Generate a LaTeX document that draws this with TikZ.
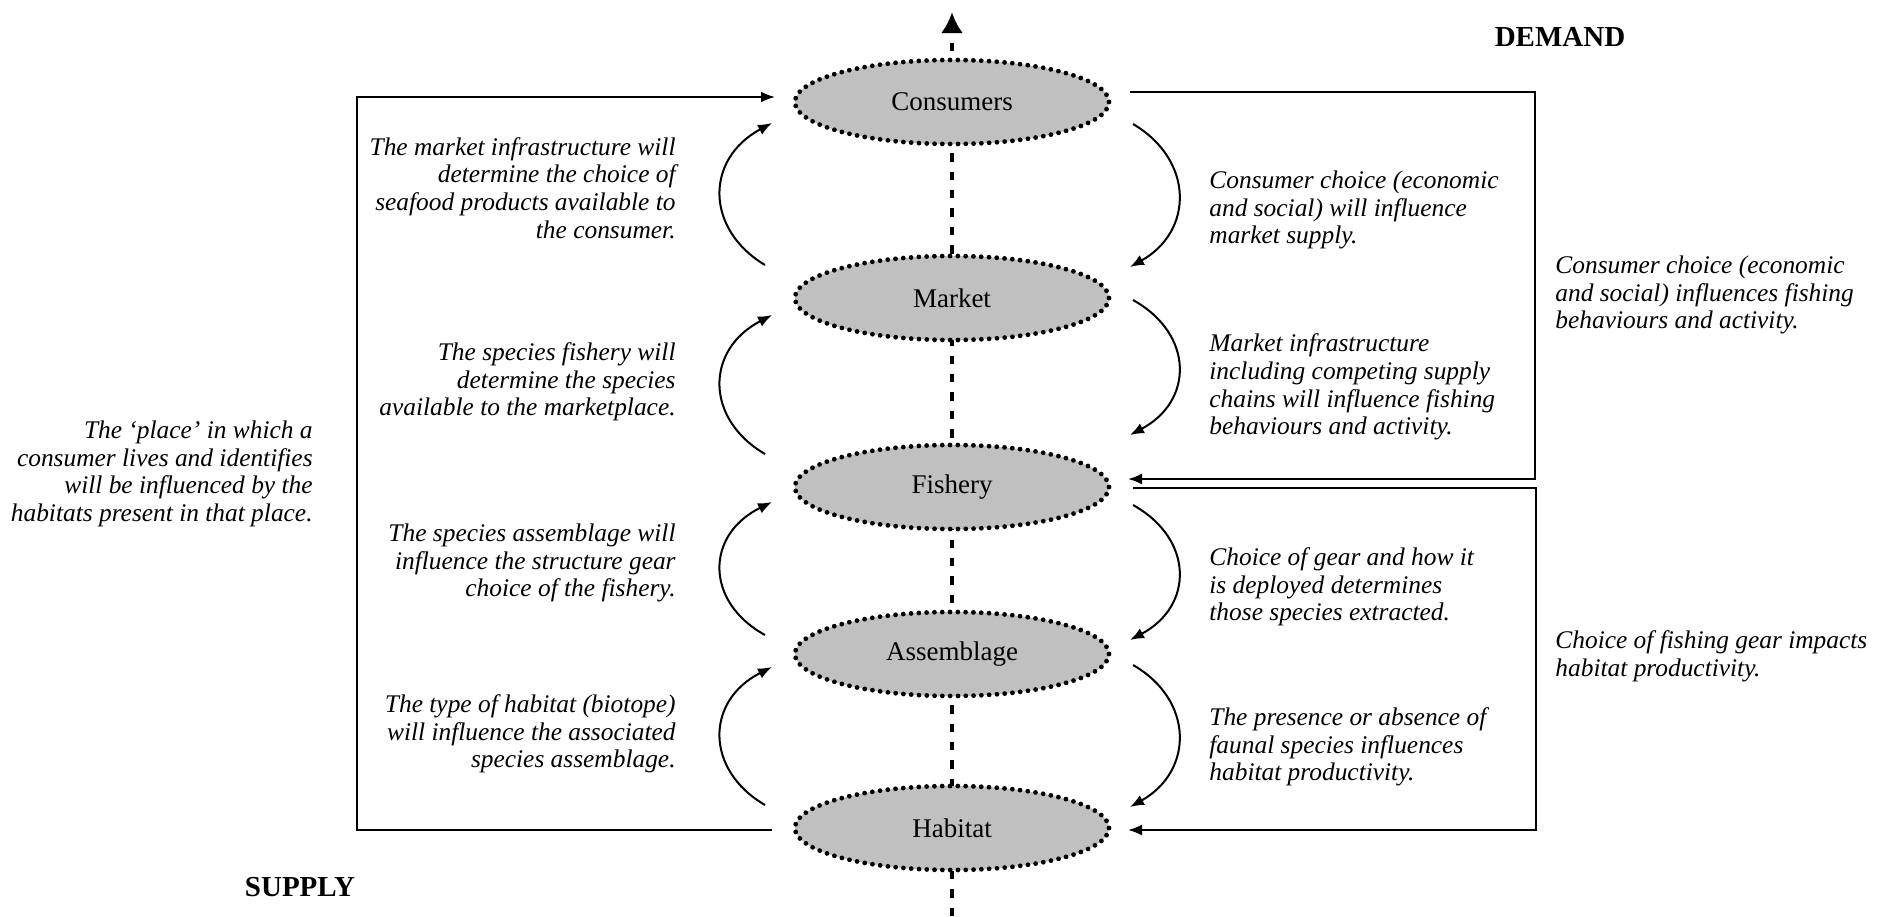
\documentclass[tikz,border=0pt]{standalone}
\usepackage{fontspec}
\setmainfont{Liberation Serif}
\usetikzlibrary{arrows.meta,calc,shapes.geometric}
\definecolor{ovalgray}{RGB}{192,192,192}
\begin{document}
\begin{tikzpicture}[x=0.5pt,y=-0.5pt,
  stage/.style={ellipse, draw=black, fill=ovalgray, line width=2.4pt,
    dash pattern=on 0pt off 3.9pt, line cap=round,
    minimum width=157pt, minimum height=42pt, inner sep=0pt,
    font=\fontsize{13.5}{16}\selectfont},
  note/.style={font=\itshape\fontsize{12.7}{13.8}\selectfont, inner sep=0pt},
  lnote/.style={note, anchor=east, align=right},
  rnote/.style={note, anchor=west, align=left},
  loopline/.style={line width=1pt, -{Latex[length=7pt,width=5.5pt]}},
  feed/.style={line width=1pt, -{Latex[length=7pt,width=5.5pt]}},
  axisline/.style={line width=2pt, dash pattern=on 4.2pt off 5pt,
    -{Latex[length=10.5pt,width=11pt]}},
  heading/.style={font=\bfseries\fontsize{14.5}{17}\selectfont, inner sep=0pt}]
\useasboundingbox (0,0) rectangle (1885,916);

% central supply-demand axis, drawn beneath the stages
\coordinate (axisfoot) at (952,916);
\coordinate (axishead) at (952,12);
\draw[axisline] (axisfoot) -- (axishead);

% stages
\node[stage] (consumers)  at (952,102) {Consumers};
\node[stage] (market)     at (952,298) {Market};
\node[stage] (fishery)    at (952,487) {Fishery};
\node[stage] (assemblage) at (952,654) {Assemblage};
\node[stage] (habitat)    at (952,828) {Habitat};

% upward influences (left side)
\draw[loopline] ($(market)+(-187,-33)$) .. controls (705,229) and (705,159) .. ($(consumers)+(-180,21)$);
\draw[loopline] ($(fishery)+(-187,-33)$) .. controls (705,419) and (705,350) .. ($(market)+(-180,17)$);
\draw[loopline] ($(assemblage)+(-187,-19)$) .. controls (705,602) and (705,535) .. ($(fishery)+(-180,15)$);
\draw[loopline] ($(habitat)+(-187,-23)$) .. controls (705,770) and (705,701) .. ($(assemblage)+(-180,13)$);

% downward influences (right side)
\draw[loopline] ($(consumers)+(181,22)$) .. controls (1194,160) and (1194,231) .. ($(market)+(178,-31)$);
\draw[loopline] ($(market)+(181,2)$) .. controls (1194,334) and (1194,401) .. ($(fishery)+(178,-52)$);
\draw[loopline] ($(fishery)+(181,18)$) .. controls (1194,539) and (1194,606) .. ($(assemblage)+(178,-14)$);
\draw[loopline] ($(assemblage)+(181,11)$) .. controls (1194,700) and (1194,771) .. ($(habitat)+(178,-21)$);

% long feedback loops
\coordinate (lcornerb) at (357,830);
\coordinate (lcornert) at (357,97);
\draw[feed] ($(habitat)+(-180,2)$) -- (lcornerb) -- (lcornert) -- ($(consumers)+(-177,-5)$);
\coordinate (rcorner1) at (1535,92);
\coordinate (rcorner2) at (1535,479);
\draw[feed] ($(consumers)+(178,-10)$) -- (rcorner1) -- (rcorner2) -- ($(fishery)+(176,-8)$);
\coordinate (rcorner3) at (1536,488);
\coordinate (rcorner4) at (1536,830);
\draw[feed] ($(fishery)+(181,1)$) -- (rcorner3) -- (rcorner4) -- ($(habitat)+(176,2)$);

% explanatory notes
\node[lnote] (n1) at (676,188) {The market infrastructure will\\determine the choice of\\seafood products available to\\the consumer.};
\node[lnote] (n2) at (676,382) {The species fishery will\\determine the species\\available to the marketplace.};
\node[lnote] (n3) at (676,563) {The species assemblage will\\influence the structure gear\\choice of the fishery.};
\node[lnote] (n4) at (676,734) {The type of habitat (biotope)\\will influence the associated\\species assemblage.};
\node[rnote] (n5) at (1209,210) {Consumer choice (economic\\and social) will influence\\market supply.};
\node[rnote] (n6) at (1209,387) {Market infrastructure\\including competing supply\\chains will influence fishing\\behaviours and activity.};
\node[rnote] (n7) at (1209,587) {Choice of gear and how it\\is deployed determines\\those species extracted.};
\node[rnote] (n8) at (1209,747) {The presence or absence of\\faunal species influences\\habitat productivity.};
\node[rnote] (n9) at (1555,295) {Consumer choice (economic\\and social) influences fishing\\behaviours and activity.};
\node[rnote] (n10) at (1555,656) {Choice of fishing gear impacts\\habitat productivity.};
\node[lnote] (n11) at (313,474) {The ‘place’ in which a\\consumer lives and identifies\\will be influenced by the\\habitats present in that place.};

\node[heading] (demand) at (1560,37) {DEMAND};
\node[heading] (supply) at (300,887) {SUPPLY};
\end{tikzpicture}
\end{document}
